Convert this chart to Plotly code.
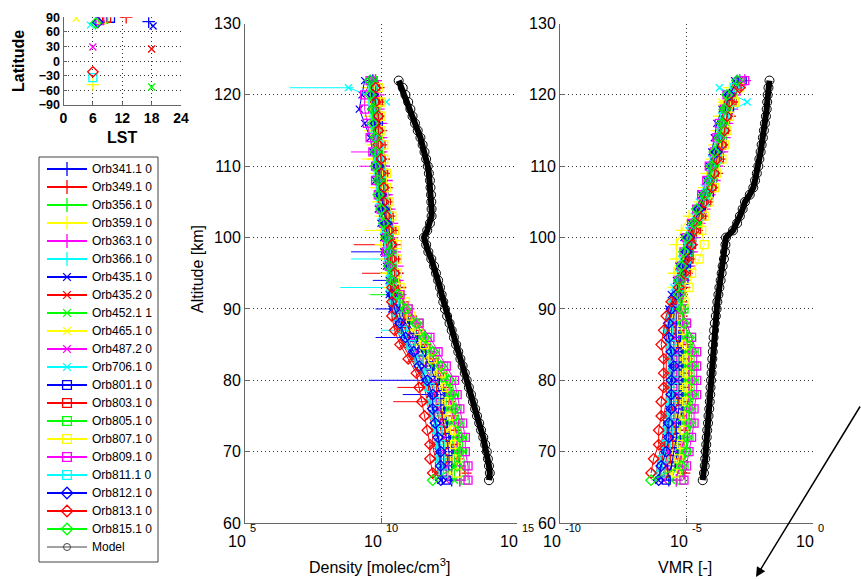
import plotly.graph_objects as go

W, H = 861, 579
FONT = "Liberation Sans, Arial, Helvetica, sans-serif"

# ---------------- data ----------------
ORBIT_NAMES = ["Orb341.1 0", "Orb349.1 0", "Orb356.1 0", "Orb359.1 0", "Orb363.1 0", "Orb366.1 0",
               "Orb435.1 0", "Orb435.2 0", "Orb452.1 1", "Orb465.1 0", "Orb487.2 0", "Orb706.1 0",
               "Orb801.1 0", "Orb803.1 0", "Orb805.1 0", "Orb807.1 0", "Orb809.1 0", "Orb811.1 0",
               "Orb812.1 0", "Orb813.1 0", "Orb815.1 0"]
ORBIT_COLORS = ["#0000ff", "#ff0000", "#00ff00", "#ffff00", "#ff00ff", "#00ffff",
                "#0000ff", "#ff0000", "#00ff00", "#ffff00", "#ff00ff", "#00ffff",
                "#0000ff", "#ff0000", "#00ff00", "#ffff00", "#ff00ff", "#00ffff",
                "#0000ff", "#ff0000", "#00ff00"]
ORBIT_MARKERS = ["plus"] * 6 + ["x"] * 6 + ["square"] * 6 + ["diamond"] * 3

# local solar time [h] and latitude [deg] of each orbit
LST = [17.4, 12.8, 7.0, 6.0, 7.2, 6.5, 18.3, 18.0, 18.0, 2.6, 6.0, 5.5,
       9.6, 8.8, 8.2, 7.8, 7.4, 6.0, 7.0, 6.0, 6.6]
LAT = [81, 90, 80, -48, 82, 77, 72, 25, -53, 88, 29, 74,
       88, 88, 86, 85, 83, -34, 80, -22, 78]

# altitude grids [km]
ALT_EVEN = list(range(66, 123, 2))
ALT_ODD = list(range(67, 122, 2))

# log10 density [molec/cm^3] per orbit
D341 = [12.6, 12.6, 12.6, 12.5, 12.4, 12.3, 12.3, 12.1, 11.9, 11.5, 11.3, 11.0, 10.8, 10.6, 10.5, 10.4, 10.4, 10.3, 10.2, 10.1, 10.1, 10.0, 10.0, 9.9, 9.9, 9.8, 9.8, 9.7, 9.7]
D349 = [13.1, 12.8, 12.7, 12.7, 12.6, 12.5, 12.4, 12.2, 11.9, 11.6, 11.4, 11.1, 10.8, 10.7, 10.6, 10.5, 10.5, 10.4, 10.3, 10.2, 10.2, 10.1, 10.1, 10.0, 10.0, 9.9, 9.9, 9.9]
D356 = [12.9, 12.9, 12.9, 12.8, 12.7, 12.6, 12.6, 12.4, 12.1, 11.8, 11.6, 11.3, 10.9, 10.7, 10.5, 10.4, 10.4, 10.4, 10.3, 10.2, 10.1, 10.0, 10.0, 9.9, 9.9, 9.9, 9.8, 9.8, 9.8]
D359 = [12.4, 12.4, 12.3, 12.3, 12.2, 12.1, 12.0, 11.8, 11.5, 11.2, 11.0, 10.7, 10.5, 10.3, 10.2, 10.2, 10.0, 10.0, 10.0, 9.9, 9.8, 9.8, 9.7, 9.7, 9.6, 9.6, 9.6, 9.5]
D363 = [12.9, 12.9, 12.8, 12.8, 12.7, 12.6, 12.5, 12.3, 12.1, 11.8, 11.5, 11.3, 11.0, 10.7, 10.6, 10.6, 10.5, 10.4, 10.4, 10.3, 10.2, 10.2, 10.1, 10.0, 10.0, 10.0, 9.9, 9.9, 9.8]
D366 = [12.2, 12.2, 12.1, 12.1, 12.0, 11.9, 11.8, 11.6, 11.3, 11.0, 10.8, 10.6, 10.5, 10.5, 10.5, 10.4, 10.4, 10.3, 10.2, 10.1, 10.1, 10.0, 10.0, 9.9, 9.9, 9.8, 9.8, 9.8]
D4351 = [12.2, 12.2, 12.1, 12.1, 12.0, 11.9, 11.8, 11.6, 11.4, 11.1, 10.9, 10.6, 10.4, 10.3, 10.3, 10.2, 10.1, 10.1, 10.0, 9.9, 9.9, 9.8, 9.8, 9.7, 9.6, 9.4, 9.2, 9.3, 9.4]
D4352 = [12.0, 12.0, 11.9, 11.9, 11.8, 11.7, 11.6, 11.4, 11.1, 10.8, 10.6, 10.5, 10.4, 10.5, 10.5, 10.5, 10.4, 10.4, 10.3, 10.2, 10.1, 10.1, 10.0, 10.0, 9.9, 9.9, 9.9, 9.8]
D452 = [12.7, 12.7, 12.7, 12.6, 12.5, 12.4, 12.4, 12.2, 11.9, 11.6, 11.4, 11.1, 10.8, 10.6, 10.4, 10.4, 10.3, 10.3, 10.2, 10.1, 10.0, 9.9, 9.9, 9.9, 9.8, 9.8, 9.7, 9.7, 9.6]
D465 = [12.5, 12.5, 12.4, 12.4, 12.3, 12.2, 12.1, 11.9, 11.6, 11.3, 11.1, 10.8, 10.6, 10.4, 10.3, 10.3, 10.2, 10.2, 10.1, 10.0, 9.9, 9.9, 9.8, 9.8, 9.7, 9.7, 9.6, 9.6]
D487 = [12.4, 12.4, 12.3, 12.3, 12.2, 12.1, 12.0, 11.9, 11.6, 11.3, 11.1, 10.8, 10.6, 10.5, 10.4, 10.4, 10.4, 10.3, 10.2, 10.1, 10.1, 10.0, 9.9, 9.9, 9.9, 9.8, 9.8, 9.7, 9.7]
D706 = [12.1, 12.1, 12.0, 12.0, 11.9, 11.8, 11.7, 11.5, 11.2, 10.9, 10.7, 10.5, 10.4, 10.3, 10.3, 10.2, 10.2, 10.1, 10.0, 9.9, 9.9, 9.8, 9.8, 9.8, 9.7, 9.7, 10.2, 8.8]
D801 = [12.4, 12.5, 12.5, 12.4, 12.3, 12.2, 12.2, 12.0, 11.8, 11.5, 11.2, 10.9, 10.7, 10.6, 10.5, 10.4, 10.4, 10.3, 10.3, 10.2, 10.1, 10.0, 10.0, 9.9, 9.9, 9.9, 9.8, 9.8, 9.7]
D803 = [12.3, 12.3, 12.3, 12.2, 12.1, 12.0, 11.9, 11.7, 11.4, 11.1, 10.9, 10.7, 10.5, 10.5, 10.5, 10.5, 10.4, 10.4, 10.3, 10.2, 10.1, 10.1, 10.0, 10.0, 9.9, 9.9, 9.9, 9.8]
D805 = [13.1, 13.1, 13.0, 13.0, 12.9, 12.8, 12.7, 12.6, 12.3, 12.0, 11.7, 11.4, 11.0, 10.7, 10.5, 10.4, 10.4, 10.3, 10.2, 10.1, 10.1, 10.0, 10.0, 9.9, 9.9, 9.8, 9.8, 9.7, 9.7]
D807 = [12.8, 12.8, 12.7, 12.7, 12.6, 12.5, 12.4, 12.2, 11.9, 11.6, 11.4, 11.1, 10.9, 10.7, 10.6, 10.6, 10.6, 10.5, 10.4, 10.3, 10.2, 10.2, 10.1, 10.1, 10.0, 10.0, 10.0, 9.9]
D809 = [13.2, 13.2, 13.1, 13.1, 13.0, 12.9, 12.8, 12.7, 12.4, 12.1, 11.8, 11.4, 11.0, 10.7, 10.4, 10.3, 10.2, 10.2, 10.1, 10.0, 9.9, 9.8, 9.8, 9.7, 9.6, 9.5, 9.4, 9.4, 9.6]
D811 = [12.3, 12.2, 12.2, 12.1, 12.0, 12.0, 11.8, 11.7, 11.4, 11.1, 10.8, 10.6, 10.5, 10.4, 10.4, 10.4, 10.3, 10.3, 10.2, 10.1, 10.0, 10.0, 9.9, 9.9, 9.8, 9.8, 9.7, 9.7]
D812 = [12.2, 12.2, 12.2, 12.1, 12.0, 11.9, 11.9, 11.7, 11.4, 11.2, 10.9, 10.7, 10.5, 10.4, 10.4, 10.3, 10.3, 10.2, 10.2, 10.1, 10.0, 9.9, 9.9, 9.8, 9.8, 9.8, 9.7, 9.7, 9.6]
D813 = [11.9, 11.8, 11.8, 11.7, 11.6, 11.5, 11.4, 11.3, 11.0, 10.7, 10.5, 10.4, 10.4, 10.4, 10.5, 10.4, 10.4, 10.3, 10.2, 10.1, 10.1, 10.0, 10.0, 9.9, 9.9, 9.9, 9.8, 9.8]
D815 = [11.9, 12.8, 12.9, 12.9, 12.8, 12.7, 12.6, 12.5, 12.2, 11.9, 11.6, 11.3, 10.9, 10.6, 10.4, 10.3, 10.3, 10.2, 10.1, 10.0, 9.9, 9.9, 9.8, 9.8, 9.8, 9.7, 9.7, 9.6, 9.6]

# log10 volume mixing ratio per orbit
V341 = [-5.7, -5.6, -5.4, -5.4, -5.3, -5.2, -5.2, -5.2, -5.2, -5.2, -5.3, -5.4, -5.4, -5.3, -5.2, -5.1, -5.0, -4.9, -4.6, -4.5, -4.2, -4.0, -3.9, -3.8, -3.7, -3.6, -3.4, -3.3, -2.9]
V349 = [-5.1, -5.3, -5.2, -5.1, -5.1, -5.0, -5.0, -5.0, -5.0, -5.0, -5.2, -5.2, -5.2, -5.1, -5.0, -4.9, -4.8, -4.6, -4.4, -4.2, -4.0, -3.8, -3.7, -3.6, -3.5, -3.3, -3.2, -2.9]
V356 = [-5.4, -5.3, -5.1, -5.1, -5.0, -4.9, -4.9, -4.9, -4.9, -4.9, -5.0, -5.1, -5.2, -5.2, -5.1, -5.0, -4.9, -4.8, -4.6, -4.4, -4.2, -4.0, -3.9, -3.7, -3.6, -3.5, -3.4, -3.2, -2.9]
V359 = [-5.8, -5.7, -5.6, -5.5, -5.5, -5.4, -5.4, -5.4, -5.4, -5.4, -5.6, -5.6, -5.6, -5.5, -5.5, -5.4, -5.4, -5.2, -4.9, -4.5, -4.3, -4.2, -4.0, -3.9, -3.8, -3.7, -3.5, -3.3]
V363 = [-5.4, -5.3, -5.2, -5.1, -5.0, -5.0, -4.9, -4.9, -4.9, -4.9, -5.1, -5.1, -5.2, -5.2, -5.1, -4.9, -4.8, -4.7, -4.5, -4.3, -4.1, -3.9, -3.8, -3.6, -3.5, -3.4, -3.2, -3.1, -2.7]
V366 = [-6.0, -5.9, -5.8, -5.7, -5.7, -5.6, -5.6, -5.6, -5.6, -5.6, -5.7, -5.6, -5.5, -5.3, -5.1, -5.0, -4.9, -4.7, -4.5, -4.3, -4.1, -3.9, -3.8, -3.7, -3.6, -3.4, -3.3, -3.0]
V4351 = [-6.1, -6.0, -5.9, -5.8, -5.8, -5.7, -5.6, -5.6, -5.6, -5.6, -5.7, -5.7, -5.7, -5.6, -5.4, -5.3, -5.1, -5.1, -4.8, -4.6, -4.4, -4.2, -4.1, -4.0, -3.9, -3.8, -3.6, -3.4, -3.1]
V4352 = [-6.2, -6.1, -6.0, -5.9, -5.9, -5.8, -5.8, -5.8, -5.8, -5.8, -5.8, -5.7, -5.5, -5.3, -5.0, -4.9, -4.8, -4.6, -4.4, -4.2, -4.0, -3.9, -3.7, -3.6, -3.5, -3.4, -3.2, -3.0]
V452 = [-5.6, -5.4, -5.3, -5.3, -5.2, -5.1, -5.1, -5.1, -5.1, -5.1, -5.2, -5.3, -5.3, -5.3, -5.2, -5.1, -5.0, -4.9, -4.7, -4.5, -4.3, -4.1, -4.0, -3.8, -3.7, -3.6, -3.5, -3.3, -2.9]
V465 = [-5.7, -5.6, -5.5, -5.4, -5.4, -5.3, -5.3, -5.3, -5.3, -5.3, -5.5, -5.5, -5.4, -5.3, -5.2, -5.1, -5.0, -4.8, -4.6, -4.4, -4.2, -4.1, -3.9, -3.8, -3.7, -3.6, -3.6, -3.1]
V487 = [-5.9, -5.8, -5.7, -5.6, -5.5, -5.5, -5.4, -5.4, -5.4, -5.4, -5.5, -5.5, -5.5, -5.4, -5.2, -5.1, -4.9, -4.9, -4.6, -4.5, -4.2, -4.0, -3.9, -3.8, -3.6, -3.5, -3.4, -3.2, -2.9]
V706 = [-6.2, -6.0, -5.9, -5.8, -5.8, -5.7, -5.7, -5.7, -5.7, -5.7, -5.8, -5.7, -5.6, -5.5, -5.3, -5.2, -5.0, -4.9, -4.7, -4.5, -4.3, -4.1, -4.0, -3.8, -3.7, -3.6, -2.6, -3.7]
V801 = [-5.8, -5.6, -5.5, -5.4, -5.4, -5.3, -5.3, -5.3, -5.3, -5.3, -5.4, -5.4, -5.4, -5.3, -5.1, -5.0, -4.9, -4.8, -4.6, -4.4, -4.1, -4.0, -3.9, -3.7, -3.6, -3.5, -3.3, -3.2, -2.8]
V803 = [-5.9, -5.8, -5.7, -5.6, -5.6, -5.5, -5.5, -5.5, -5.5, -5.5, -5.6, -5.5, -5.4, -5.2, -5.0, -4.9, -4.8, -4.6, -4.4, -4.2, -4.0, -3.9, -3.7, -3.6, -3.5, -3.4, -3.2, -3.0]
V805 = [-5.2, -5.1, -5.0, -4.9, -4.8, -4.8, -4.7, -4.7, -4.7, -4.7, -4.8, -5.0, -5.1, -5.2, -5.2, -5.1, -4.9, -4.8, -4.6, -4.5, -4.2, -4.0, -3.9, -3.8, -3.6, -3.5, -3.4, -3.2, -2.9]
V807 = [-5.4, -5.3, -5.2, -5.1, -5.1, -5.0, -5.0, -5.0, -5.0, -5.0, -5.2, -5.2, -5.1, -4.9, -4.8, -4.5, -4.3, -4.4, -4.3, -4.1, -3.9, -3.8, -3.6, -3.5, -3.4, -3.3, -3.1, -2.9]
V809 = [-5.1, -5.0, -4.9, -4.8, -4.7, -4.7, -4.6, -4.6, -4.6, -4.6, -4.8, -5.0, -5.2, -5.3, -5.3, -5.2, -5.1, -5.0, -4.8, -4.6, -4.4, -4.2, -4.1, -3.9, -3.8, -3.7, -3.5, -3.4, -2.7]
V811 = [-6.0, -5.9, -5.8, -5.7, -5.6, -5.6, -5.5, -5.5, -5.5, -5.6, -5.7, -5.6, -5.5, -5.3, -5.1, -5.0, -4.9, -4.8, -4.5, -4.3, -4.1, -4.0, -3.8, -3.7, -3.6, -3.5, -3.3, -3.1]
V812 = [-6.1, -6.0, -5.8, -5.7, -5.7, -5.6, -5.6, -5.6, -5.5, -5.6, -5.7, -5.7, -5.6, -5.4, -5.3, -5.1, -5.0, -4.9, -4.7, -4.5, -4.3, -4.1, -4.0, -3.8, -3.7, -3.6, -3.5, -3.3, -3.0]
V813 = [-6.4, -6.3, -6.1, -6.1, -6.0, -6.0, -5.9, -5.9, -5.9, -6.0, -5.9, -5.8, -5.6, -5.3, -5.1, -5.0, -4.8, -4.7, -4.5, -4.3, -4.0, -3.9, -3.8, -3.6, -3.5, -3.4, -3.3, -2.9]
V815 = [-6.4, -5.2, -5.0, -5.0, -4.9, -4.9, -4.8, -4.8, -4.8, -4.8, -4.9, -5.1, -5.2, -5.3, -5.3, -5.2, -5.1, -5.0, -4.7, -4.6, -4.3, -4.1, -4.0, -3.9, -3.7, -3.6, -3.5, -3.4, -3.0]

DENS = [D341, D349, D356, D359, D363, D366, D4351, D4352, D452, D465, D487, D706,
        D801, D803, D805, D807, D809, D811, D812, D813, D815]
VMR = [V341, V349, V356, V359, V363, V366, V4351, V4352, V452, V465, V487, V706,
       V801, V803, V805, V807, V809, V811, V812, V813, V815]

# density error bars: orbit index, altitude, lower/upper bound (log10)
ERR_ORBIT = [11, 16, 3, 16, 0, 5, 7, 9, 1, 11, 6, 8, 6, 17, 18, 6, 18, 7, 19]
ERR_ALT = [121, 112, 111, 110, 98, 97, 99, 101, 95, 93, 94, 92, 90, 87, 86, 80, 78, 77, 79]
ERR_LO = [6.65, 8.9, 9.3, 9.2, 8.9, 8.9, 9.0, 9.4, 9.3, 8.5, 9.7, 9.6, 9.8, 10.0, 9.8, 9.55, 10.8, 10.45, 10.6]
ERR_HI = [9.0, 10.2, 9.9, 10.0, 10.6, 10.6, 10.6, 10.4, 10.8, 10.5, 10.5, 10.8, 10.6, 11.0, 11.1, 11.8, 12.0, 11.9, 11.6]

# model (1 km grid, 66..122 km)
MODEL_ALT = list(range(66, 123))
MODEL_DENS = [13.97, 14.0, 13.97, 13.93, 13.89, 13.83, 13.76, 13.68, 13.61, 13.53, 13.46, 13.38, 13.31, 13.23,
              13.15, 13.08, 13.0, 12.92, 12.84, 12.76, 12.68, 12.6, 12.52, 12.43, 12.35, 12.29, 12.23, 12.17,
              12.1, 12.02, 11.95, 11.85, 11.74, 11.66, 11.58, 11.7, 11.8, 11.86, 11.86, 11.85, 11.84, 11.82,
              11.8, 11.76, 11.72, 11.66, 11.6, 11.53, 11.45, 11.35, 11.25, 11.16, 11.08, 11.0, 10.9, 10.8, 10.65]
MODEL_VMR = [-4.36, -4.31, -4.28, -4.26, -4.24, -4.22, -4.2, -4.18, -4.15, -4.13, -4.1, -4.08, -4.06, -4.05,
             -4.03, -4.01, -4.0, -3.98, -3.96, -3.95, -3.93, -3.91, -3.88, -3.84, -3.81, -3.78, -3.74, -3.7,
             -3.65, -3.61, -3.57, -3.52, -3.48, -3.46, -3.44, -3.16, -3.0, -2.89, -2.78, -2.69, -2.5, -2.36,
             -2.29, -2.22, -2.16, -2.12, -2.07, -2.03, -1.98, -1.94, -1.9, -1.86, -1.83, -1.81, -1.79, -1.76, -1.72]

DENS_TICK_EXP = [5, 10, 15]
VMR_TICK_EXP = [-10, -5, 0]
ALT_TICKS = [60, 70, 80, 90, 100, 110, 120, 130]
LST_TICKS = [0, 6, 12, 18, 24]
LAT_TICKS = [-90, -60, -30, 0, 30, 60, 90]

# ---------------- styling helpers ----------------
SYMBOL = {"plus": "cross-thin-open", "x": "x-thin-open", "square": "square-open", "diamond": "diamond-open"}
MSIZE = {"plus": 9, "x": 7, "square": 8, "diamond": 8}


def fx(p):
    return p / W


def fy(p):
    return 1 - p / H


def marker(i, scale=1.0):
    m = ORBIT_MARKERS[i]
    return dict(symbol=SYMBOL[m], size=MSIZE[m] * scale, color=ORBIT_COLORS[i],
                line=dict(color=ORBIT_COLORS[i], width=1.3))


def note(x, y, text, size, **kw):
    d = dict(x=x, y=y, xref="paper", yref="paper", text=text, showarrow=False,
             xanchor="center", yanchor="middle", font=dict(size=size))
    d.update(kw)
    return d


fig = go.Figure()

# small LST / latitude map
for i in range(len(ORBIT_NAMES)):
    fig.add_trace(go.Scatter(x=[LST[i]], y=[LAT[i]], mode="markers", marker=marker(i, 1.0),
                             xaxis="x", yaxis="y", showlegend=False, hoverinfo="skip"))

# density error bars
for k in range(len(ERR_ORBIT)):
    fig.add_trace(go.Scatter(x=[10 ** ERR_LO[k], 10 ** ERR_HI[k]], y=[ERR_ALT[k], ERR_ALT[k]],
                             mode="lines", line=dict(color=ORBIT_COLORS[ERR_ORBIT[k]], width=1),
                             xaxis="x2", yaxis="y2", showlegend=False, hoverinfo="skip"))

# orbit profiles
for i in range(len(ORBIT_NAMES)):
    alts = ALT_EVEN if i % 2 == 0 else ALT_ODD
    fig.add_trace(go.Scatter(x=[10 ** v for v in DENS[i]], y=alts, mode="lines+markers",
                             line=dict(color=ORBIT_COLORS[i], width=1), marker=marker(i),
                             name=ORBIT_NAMES[i], xaxis="x2", yaxis="y2", showlegend=False))
    fig.add_trace(go.Scatter(x=[10 ** v for v in VMR[i]], y=alts, mode="lines+markers",
                             line=dict(color=ORBIT_COLORS[i], width=1), marker=marker(i),
                             name=ORBIT_NAMES[i], xaxis="x3", yaxis="y3", showlegend=False))

# model
for xs, xa, ya in [(MODEL_DENS, "x2", "y2"), (MODEL_VMR, "x3", "y3")]:
    fig.add_trace(go.Scatter(x=[10 ** v for v in xs], y=MODEL_ALT, mode="lines",
                             line=dict(color="black", width=6), xaxis=xa, yaxis=ya,
                             showlegend=False, hoverinfo="skip"))
    fig.add_trace(go.Scatter(x=[10 ** v for v in xs], y=MODEL_ALT, mode="markers", name="Model",
                             marker=dict(symbol="circle-open", size=9, color="black",
                                         line=dict(color="black", width=1)),
                             xaxis=xa, yaxis=ya, showlegend=False))

# hand-drawn MATLAB style legend (own axes, 1 unit = 1 px)
LEG_ROWS = len(ORBIT_NAMES) + 1
annotations = []
for r in range(LEG_ROWS):
    yy = 12 + 18 * r
    if r < len(ORBIT_NAMES):
        col = ORBIT_COLORS[r]
        mk = marker(r, 1.1)
        label = ORBIT_NAMES[r]
        lw = 1.8
    else:
        col = "#444444"
        mk = dict(symbol="circle-open", size=7, color="#444444", line=dict(color="#444444", width=1))
        label = "Model"
        lw = 1
    fig.add_trace(go.Scatter(x=[8, 48], y=[yy, yy], mode="lines", line=dict(color=col, width=lw),
                             xaxis="x4", yaxis="y4", showlegend=False, hoverinfo="skip"))
    fig.add_trace(go.Scatter(x=[28], y=[yy], mode="markers", marker=mk,
                             xaxis="x4", yaxis="y4", showlegend=False, hoverinfo="skip"))
    annotations.append(dict(x=51, y=yy, xref="x4", yref="y4", text=label, showarrow=False,
                            xanchor="left", yanchor="middle", font=dict(size=12, color="black")))

# x tick labels in MATLAB 10^n style
for e in DENS_TICK_EXP:
    annotations.append(dict(x=e, y=fy(541), xref="x2", yref="paper", text="10", showarrow=False,
                            xanchor="right", yanchor="middle", xshift=3, font=dict(size=16)))
    annotations.append(dict(x=e, y=fy(528), xref="x2", yref="paper", text=str(e), showarrow=False,
                            xanchor="left", yanchor="middle", xshift=3, font=dict(size=11)))
for e in VMR_TICK_EXP:
    annotations.append(dict(x=e, y=fy(541), xref="x3", yref="paper", text="10", showarrow=False,
                            xanchor="right", yanchor="middle", xshift=3, font=dict(size=16)))
    annotations.append(dict(x=e, y=fy(528), xref="x3", yref="paper", text=str(e), showarrow=False,
                            xanchor="left", yanchor="middle", xshift=3, font=dict(size=11)))

# axis titles
annotations += [
    note(fx(197), fy(269), "Altitude [km]", 16, textangle=-90),
    note(fx(379), fy(566), "Density [molec/cm<sup>3</sup>]", 16),
    note(fx(685), fy(567), "VMR [-]", 16),
    note(fx(18), fy(61), "<b>Latitude</b>", 16, textangle=-90),
    note(fx(122), fy(138), "<b>LST</b>", 16),
    # arrow
    dict(x=fx(756), y=fy(577), xref="paper", yref="paper", text="", showarrow=True,
         ax=110, ay=-172, arrowhead=2, arrowsize=1.3, arrowwidth=1.5, arrowcolor="black"),
]

AX = dict(showline=True, linecolor="#666666", linewidth=1, ticks="inside", ticklen=5,
          tickcolor="#666666", zeroline=False, mirror=False, automargin=False,
          showgrid=True, gridcolor="#333333", griddash="1px,3px", gridwidth=1)

fig.update_layout(
    template="none",
    width=W, height=H, autosize=False,
    margin=dict(l=0, r=0, t=0, b=0),
    paper_bgcolor="white", plot_bgcolor="white",
    font=dict(family=FONT, color="black"),
    showlegend=False,
    xaxis=dict(AX, domain=[fx(63.5), fx(181)], range=[0, 24], tickvals=LST_TICKS,
               tickfont=dict(size=14, weight="bold"), anchor="y", ticklen=3),
    yaxis=dict(AX, domain=[fy(105), fy(17.3)], range=[-90, 90], tickvals=LAT_TICKS,
               tickfont=dict(size=12.5, weight="bold"), anchor="x", ticklen=3),
    xaxis2=dict(AX, domain=[fx(245), fx(517)], type="log", range=[5, 15],
                tickvals=[10 ** e for e in DENS_TICK_EXP], showticklabels=False, anchor="y2"),
    yaxis2=dict(AX, domain=[fy(523), fy(23.5)], range=[60, 130], tickvals=ALT_TICKS,
                tickfont=dict(size=16), anchor="x2"),
    xaxis3=dict(AX, domain=[fx(560), fx(813)], type="log", range=[-10, 0],
                tickvals=[10 ** e for e in VMR_TICK_EXP], showticklabels=False, anchor="y3"),
    yaxis3=dict(AX, domain=[fy(523), fy(23.5)], range=[60, 130], tickvals=ALT_TICKS,
                tickfont=dict(size=16), anchor="x3"),
    xaxis4=dict(domain=[fx(39), fx(158)], range=[0, 119], visible=False, fixedrange=True),
    yaxis4=dict(domain=[fy(562), fy(157)], range=[405, 0], visible=False, fixedrange=True, anchor="x4"),
    shapes=[dict(type="rect", xref="paper", yref="paper", x0=fx(39), x1=fx(158), y0=fy(562), y1=fy(157),
                 line=dict(color="#444444", width=1), fillcolor="white", layer="below")],
    annotations=annotations,
)

fig.write_html("out.html")
